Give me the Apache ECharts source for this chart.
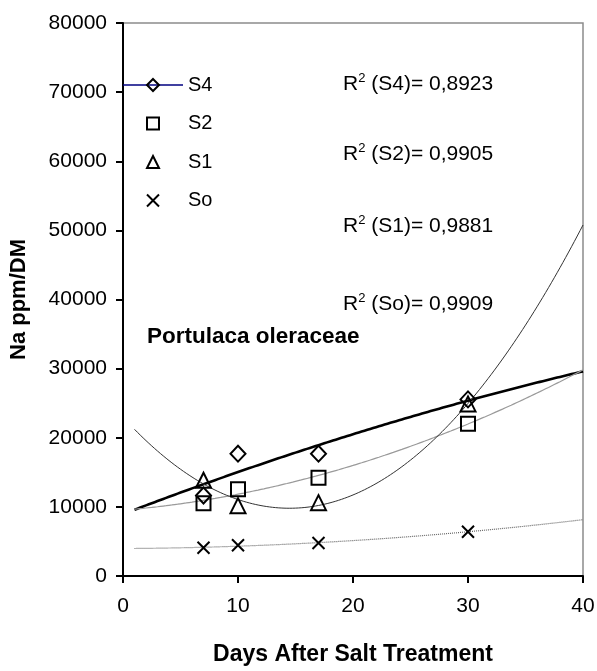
<!DOCTYPE html>
<html>
<head>
<meta charset="utf-8">
<script src="https://cdn.jsdelivr.net/npm/echarts@6/dist/echarts.min.js"></script>
<style>
  html, body { margin: 0; padding: 0; background: #fff; }
  #chart { width: 597px; height: 671px; }
</style>
</head>
<body>
<div id="chart"></div>
<script>
// Sampling days and Na content (ppm of dry matter) per salt level
const days = [7, 10, 17, 30];
const s4 = [11650, 17700, 17700, 25550];
const s2 = [10520, 12540, 14230, 22040];
const s1 = [13850, 10180, 10610, 24900];
const so = [4080, 4440, 4770, 6410];

const seriesNames = ['S4', 'S2', 'S1', 'So'];
const rSquared = ['0,8923', '0,9905', '0,9881', '0,9909'];

// Trendline range (forecast 6 days back, 10 days forward)
const trendFrom = 1;
const trendTo = 40;

const FONT = '"Liberation Sans", Arial, sans-serif';

// Second-order polynomial least-squares fit: y = a + b x + c x^2
function quadFit(xs, ys) {
  const s = [0, 0, 0, 0, 0], t = [0, 0, 0];
  xs.forEach((x, i) => {
    for (let k = 0; k < 5; k++) s[k] += Math.pow(x, k);
    for (let k = 0; k < 3; k++) t[k] += Math.pow(x, k) * ys[i];
  });
  const M = [[s[0], s[1], s[2], t[0]], [s[1], s[2], s[3], t[1]], [s[2], s[3], s[4], t[2]]];
  for (let i = 0; i < 3; i++) {
    for (let j = i + 1; j < 3; j++) {
      const f = M[j][i] / M[i][i];
      for (let k = i; k < 4; k++) M[j][k] -= f * M[i][k];
    }
  }
  const c = M[2][3] / M[2][2];
  const b = (M[1][3] - M[1][2] * c) / M[1][1];
  const a = (M[0][3] - M[0][1] * b - M[0][2] * c) / M[0][0];
  return [a, b, c];
}

function trendLine(vals) {
  const [a, b, c] = quadFit(days, vals);
  const out = [];
  for (let x = trendFrom; x <= trendTo + 1e-9; x += 0.25) out.push([x, a + b * x + c * x * x]);
  return out;
}

const pts = vals => days.map((d, i) => [d, vals[i]]);
const marker = { color: 'rgba(0,0,0,0)', borderColor: '#000', borderWidth: 2 };
const hiddenLine = { opacity: 0 };

const chart = echarts.init(document.getElementById('chart'), null, { renderer: 'canvas' });

chart.setOption({
  animation: false,
  backgroundColor: '#fff',
  grid: {
    left: 123, right: 14, top: 23, bottom: 95,
    show: true, borderColor: '#8c8c8c', borderWidth: 1.5,
    containLabel: false, outerBoundsMode: 'none'
  },
  xAxis: {
    type: 'value', min: 0, max: 40, interval: 10,
    name: 'Days After Salt Treatment', nameLocation: 'middle', nameGap: 67,
    nameTextStyle: { fontFamily: FONT, fontSize: 23, fontWeight: 'bold', color: '#000' },
    axisLine: { show: true, onZero: false, lineStyle: { color: '#000', width: 2 } },
    axisTick: { show: true, inside: false, length: 7, lineStyle: { color: '#000', width: 2 } },
    axisLabel: { margin: 20, fontFamily: FONT, fontSize: 21, color: '#000', formatter: v => String(v) },
    splitLine: { show: false }
  },
  yAxis: {
    type: 'value', min: 0, max: 80000, interval: 10000,
    name: 'Na ppm/DM', nameLocation: 'middle', nameGap: 93, nameRotate: 90,
    nameTextStyle: { fontFamily: FONT, fontSize: 22, fontWeight: 'bold', color: '#000' },
    axisLine: { show: true, onZero: false, lineStyle: { color: '#000', width: 2 } },
    axisTick: { show: true, inside: false, length: 7, lineStyle: { color: '#000', width: 2 } },
    axisLabel: { margin: 16, fontFamily: FONT, fontSize: 21, color: '#000', formatter: v => String(v) },
    splitLine: { show: false }
  },
  legend: {
    orient: 'vertical', left: 122, top: 75, padding: 0,
    itemWidth: 60, itemHeight: 15, itemGap: 18.5,
    selectedMode: false,
    textStyle: { fontFamily: FONT, fontSize: 20, color: '#000' },
    data: [
      { name: 'S4', lineStyle: { color: '#000080', width: 1.5, opacity: 1, type: 'solid' } },
      'S2', 'S1', 'So'
    ]
  },
  graphic: [
    ...seriesNames.map((n, i) => ({
      type: 'text', left: 343, top: [72, 142, 214, 292][i], z: 10,
      style: {
        text: '{m|R}{s|2}{m| (' + n + ')= ' + rSquared[i] + '}',
        rich: {
          m: { fontFamily: FONT, fontSize: 21, fill: '#000', lineHeight: 24 },
          s: { fontFamily: FONT, fontSize: 13, fill: '#000', verticalAlign: 'top', lineHeight: 24 }
        }
      }
    })),
    {
      type: 'text', left: 147, top: 325, z: 10,
      style: { text: 'Portulaca oleraceae', fontFamily: FONT, fontSize: 22.5, fontWeight: 'bold', fill: '#000' }
    }
  ],
  series: [
    { type: 'line', name: 'S4 trend', data: trendLine(s4), showSymbol: false, silent: true, z: 2,
      lineStyle: { color: '#000', width: 2.6 } },
    { type: 'line', name: 'S2 trend', data: trendLine(s2), showSymbol: false, silent: true, z: 2,
      lineStyle: { color: '#9a9a9a', width: 1.2 } },
    { type: 'line', name: 'S1 trend', data: trendLine(s1), showSymbol: false, silent: true, z: 2,
      lineStyle: { color: '#333', width: 1 } },
    { type: 'line', name: 'So trend', data: trendLine(so), showSymbol: false, silent: true, z: 2,
      lineStyle: { color: '#666', width: 1.2, type: [1, 1] } },

    { type: 'line', name: 'S4', data: pts(s4), symbol: 'diamond', symbolSize: [15, 16], showAllSymbol: true,
      lineStyle: hiddenLine, itemStyle: marker, z: 5 },
    { type: 'line', name: 'S2', data: pts(s2), symbol: 'rect', symbolSize: 14, showAllSymbol: true,
      lineStyle: hiddenLine, itemStyle: marker, z: 5 },
    { type: 'line', name: 'S1', data: pts(s1), symbol: 'triangle', symbolSize: [15, 15], showAllSymbol: true,
      lineStyle: hiddenLine, itemStyle: marker, z: 5 },
    { type: 'line', name: 'So', data: pts(so), symbol: 'path://M0,0L12,12M12,0L0,12', symbolSize: 12, showAllSymbol: true,
      lineStyle: hiddenLine, itemStyle: marker, z: 5 }
  ]
});
</script>
</body>
</html>
